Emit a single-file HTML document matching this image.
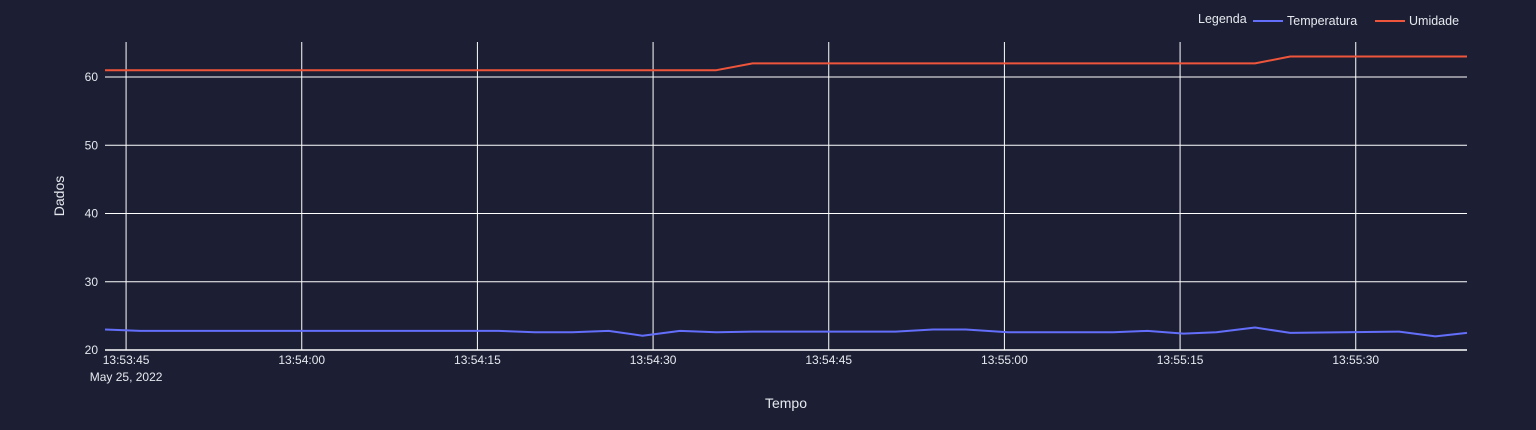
<!DOCTYPE html>
<html><head><meta charset="utf-8"><style>
html,body{margin:0;padding:0;background:#1c1f33;width:1536px;height:430px;overflow:hidden}
svg{display:block}
text{font-family:"Liberation Sans",sans-serif;fill:#e6e8ef}
</style></head><body>
<svg id="chart" width="1536" height="430" xmlns="http://www.w3.org/2000/svg">
<rect x="0" y="0" width="1536" height="430" fill="#1c1f33"/>
<g id="grid"></g>
<g id="series"></g>
<g id="axes"></g>
<text x="64" y="196" font-size="14" text-anchor="middle" transform="rotate(-90 64 196)">Dados</text>
<text x="786" y="408" font-size="14" text-anchor="middle">Tempo</text>
<g>
<text x="1198" y="23" font-size="12.5">Legenda</text>
<g>
<line x1="1253" y1="21" x2="1283" y2="21" stroke="#636efa" stroke-width="2"/>
<text x="1287" y="25" font-size="12.5">Temperatura</text></g>
<g>
<line x1="1375" y1="21" x2="1405" y2="21" stroke="#ef553b" stroke-width="2"/>
<text x="1409" y="25" font-size="12.5">Umidade</text></g>
</g>
</svg>
<script>
// seconds after 13:53:00
const times = [43.2,46.2,76.8,79.9,83.1,86.2,89.1,92.3,95.4,98.5,110.7,113.9,116.7,120.3,129.3,132.2,135.3,138.1,141.4,144.4,153.7,156.8,159.5];
const temperatura = [23.0,22.8,22.8,22.6,22.6,22.8,22.1,22.8,22.6,22.7,22.7,23.0,23.0,22.6,22.6,22.8,22.4,22.6,23.3,22.5,22.7,22.0,22.5];
const umidade = [61,61,61,61,61,61,61,61,61,62,62,62,62,62,62,62,62,62,62,63,63,63,63];
const yTicks = [20,30,40,50,60];
const xTickSecs = [45,60,75,90,105,120,135,150];
const xTickLabels = ["13:53:45","13:54:00","13:54:15","13:54:30","13:54:45","13:55:00","13:55:15","13:55:30"];

const L=105,R=1467,T=42,B=350;
const t0=43.2,t1=159.5,y0=20,pxPer10=68.25;
const xs=t=>L+(t-t0)/(t1-t0)*(R-L);
const ys=v=>B-(v-y0)*pxPer10/10;
const NS="http://www.w3.org/2000/svg";
const grid=document.getElementById('grid'),axes=document.getElementById('axes'),series=document.getElementById('series');
function mk(tag,attrs,parent){const e=document.createElementNS(NS,tag);for(const k in attrs)e.setAttribute(k,attrs[k]);parent.appendChild(e);return e;}
yTicks.forEach(v=>{
  const y=ys(v);
  const gl=mk('line',{x1:L,x2:R,y1:y,y2:y,stroke:'#ffffff','stroke-width':v===20?1.5:1},grid);
  
  
  const tx=mk('text',{x:L-7,y:y+4,'font-size':12,'text-anchor':'end'},axes);
  tx.textContent=v;
  
  
});
xTickSecs.forEach((s,i)=>{
  const x=xs(s);
  const gl=mk('line',{x1:x,x2:x,y1:T,y2:B,stroke:'#ffffff','stroke-width':1},grid);
  
  
  const tx=mk('text',{x:x,y:364,'font-size':12,'text-anchor':'middle'},axes);
  tx.textContent=xTickLabels[i];
  
  
});
const d=mk('text',{x:xs(45),y:381,'font-size':12,'text-anchor':'middle'},axes);
d.textContent="May 25, 2022";


function line(vals,color,name){
  const pts=times.map((t,i)=>xs(t).toFixed(1)+','+ys(vals[i]).toFixed(1)).join(' ');
  const p=mk('polyline',{points:pts,fill:'none',stroke:color,'stroke-width':2,'stroke-linejoin':'round'},series);
  
  
}
line(temperatura,'#636efa','temperatura-line');
line(umidade,'#ef553b','umidade-line');
</script>
</body></html>
